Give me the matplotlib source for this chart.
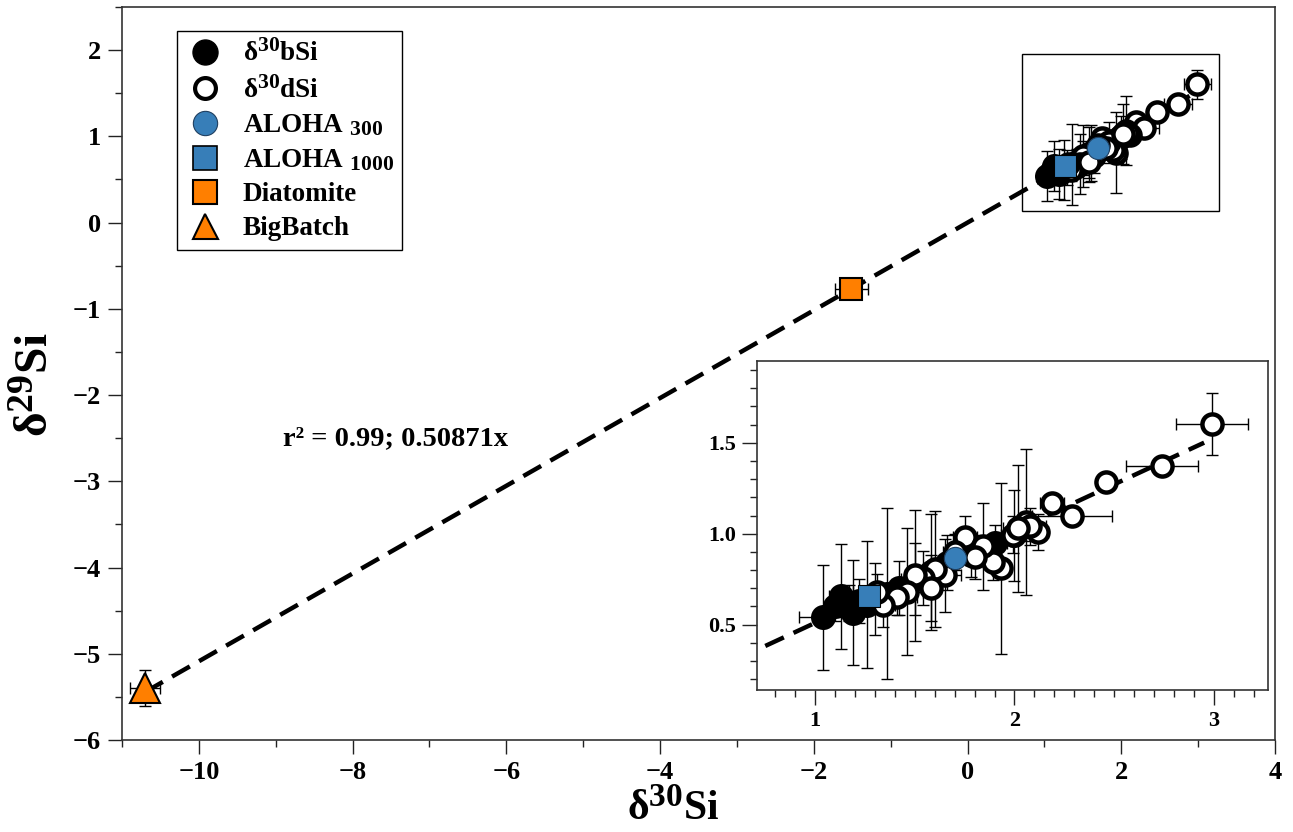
import matplotlib
matplotlib.use("Agg")
import matplotlib.pyplot as plt
import matplotlib._mathtext as _mt
from matplotlib.lines import Line2D
from matplotlib.patches import Rectangle
from matplotlib.ticker import MultipleLocator, FixedLocator

_mt.SHRINK_FACTOR = 0.8

plt.rcParams['font.family'] = ['Liberation Serif', 'DejaVu Serif']
plt.rcParams['font.weight'] = 'bold'
plt.rcParams['mathtext.fontset'] = 'custom'
plt.rcParams['mathtext.rm'] = 'Liberation Serif:bold'
plt.rcParams['mathtext.bf'] = 'Liberation Serif:bold'
plt.rcParams['mathtext.it'] = 'Liberation Serif:bold'
plt.rcParams['axes.unicode_minus'] = True

# ---------------- data ----------------
bsi_x = [1.04, 1.10, 1.13, 1.17, 1.19, 1.22, 1.26, 1.30, 1.36, 1.42, 1.50, 1.58, 1.66, 1.78, 1.90, 2.00, 2.06]
bsi_y = [0.54, 0.60, 0.655, 0.62, 0.565, 0.63, 0.61, 0.64, 0.67, 0.70, 0.75, 0.79, 0.84, 0.88, 0.95, 0.99, 1.04]
bsi_xerr = [0.12, 0.05, 0.06, 0.08, 0.05, 0.05, 0.10, 0.06, 0.08, 0.06, 0.07, 0.05, 0.06, 0.05, 0.06, 0.05, 0.05]
bsi_yerr = [0.29, 0.08, 0.29, 0.10, 0.29, 0.12, 0.35, 0.20, 0.47, 0.15, 0.20, 0.32, 0.15, 0.12, 0.10, 0.25, 0.08]

dsi_x = [2.99, 2.74, 2.46, 2.19, 2.29, 2.06, 1.99, 2.12, 2.08, 1.75, 1.93, 1.89, 1.84, 1.80,
         1.65, 1.60, 1.54, 1.50, 1.46, 1.41, 1.34, 1.31, 1.58, 1.70, 2.02]
dsi_y = [1.605, 1.375, 1.284, 1.17, 1.10, 1.064, 0.995, 1.01, 1.04, 0.98, 0.81, 0.845, 0.93, 0.87,
         0.77, 0.806, 0.755, 0.77, 0.68, 0.65, 0.605, 0.68, 0.70, 0.90, 1.03]
dsi_xerr = [0.18, 0.18, 0.03, 0.06, 0.20, 0.05, 0.06, 0.05, 0.08, 0.06, 0.05, 0.04, 0.10, 0.06,
            0.08, 0.05, 0.07, 0.05, 0.08, 0.10, 0.06, 0.12, 0.05, 0.06, 0.08]
dsi_yerr = [0.17, 0.03, 0.03, 0.05, 0.05, 0.40, 0.10, 0.10, 0.10, 0.12, 0.47, 0.10, 0.24, 0.12,
            0.20, 0.32, 0.15, 0.36, 0.35, 0.10, 0.12, 0.10, 0.18, 0.10, 0.35]

aloha300 = (1.70, 0.865, 0.04, 0.04)
aloha1000 = (1.27, 0.655, 0.05, 0.05)
diatomite = (-1.51, -0.77, 0.22, 0.05)
bigbatch = (-10.70, -5.40, 0.20, 0.21)

slope = 0.50871
line_x = [-10.70, 2.95]
r2_text = "r\u00b2 = 0.99; 0.50871x"

labels = ["\u03b4$^{30}$bSi", "\u03b4$^{30}$dSi", "ALOHA $_{300}$", "ALOHA $_{1000}$", "Diatomite", "BigBatch"]

main_xlim = (-11, 4)
main_ylim = (-6, 2.5)
ins_xlim = (0.71, 3.27)
ins_ylim = (0.14, 1.95)

BLUE = '#377eb8'
ORANGE = '#ff7f00'

W, H = 1293, 832
fig = plt.figure(figsize=(W / 100, H / 100), dpi=100)
ax = fig.add_axes([122 / W, (H - 740) / H, (1275 - 122) / W, (740 - 7) / H])


def draw(a, big):
    eb = dict(fmt='none', ecolor='black', elinewidth=1.0, capsize=4, capthick=1.0, zorder=2)
    a.errorbar(bsi_x, bsi_y, xerr=bsi_xerr, yerr=bsi_yerr, **eb)
    a.errorbar(dsi_x, dsi_y, xerr=dsi_xerr, yerr=dsi_yerr, **eb)
    for v in (aloha300, aloha1000):
        a.errorbar([v[0]], [v[1]], xerr=[v[2]], yerr=[v[3]], **eb)
    lx = line_x if big else [ins_xlim[0] - 0.1, line_x[1]]
    a.plot(lx, [slope * x for x in lx], color='black', lw=3.2,
           linestyle=(0, (4.6, 2.4)), zorder=3, solid_capstyle='butt')
    a.plot(bsi_x, bsi_y, 'o', ms=16.5, mfc='black', mec='black', mew=1.5, zorder=4)
    a.plot(dsi_x, dsi_y, 'o', ms=14.5, mfc='white', mec='black', mew=3.2, zorder=5)
    a.plot([aloha300[0]], [aloha300[1]], 'o', ms=16, mfc=BLUE, mec='#1f3f60', mew=0.8, zorder=6)
    a.plot([aloha1000[0]], [aloha1000[1]], 's', ms=15.5, mfc=BLUE, mec='black', mew=0.8, zorder=6)
    if big:
        for v, m, ms in ((diatomite, 's', 16.5), (bigbatch, '^', 22)):
            a.errorbar([v[0]], [v[1]], xerr=[v[2]], yerr=[v[3]], **eb)
            a.plot([v[0]], [v[1]], m, ms=ms, mfc=ORANGE, mec='black', mew=1.5, zorder=6)


draw(ax, True)
ax.add_patch(Rectangle((ins_xlim[0], ins_ylim[0]), ins_xlim[1] - ins_xlim[0], ins_ylim[1] - ins_ylim[0],
                       fill=False, edgecolor='black', lw=1.0, zorder=7))

ax.set_xlim(*main_xlim)
ax.set_ylim(*main_ylim)
ax.xaxis.set_major_locator(MultipleLocator(2))
ax.xaxis.set_minor_locator(MultipleLocator(1))
ax.yaxis.set_major_locator(MultipleLocator(1))
ax.yaxis.set_minor_locator(MultipleLocator(0.5))
ax.tick_params(which='both', direction='out', top=False, right=False, width=1.0, color='#222222')
ax.tick_params(which='major', length=10, labelsize=19, pad=5)
ax.tick_params(which='minor', length=5)
for s in ax.spines.values():
    s.set_linewidth(1.2)
    s.set_color('#333333')
for t in ax.get_xticklabels() + ax.get_yticklabels():
    t.set_fontweight('bold')

ax.set_xlabel("\u03b4$^{30}$Si", fontsize=30, fontweight='bold', labelpad=0)
ax.xaxis.set_label_coords((673 - 122) / 1153, -(829 - 740) / 733, transform=ax.transAxes)
ax.xaxis.label.set_va('bottom')
ax.set_ylabel("\u03b4$^{29}$Si", fontsize=34, fontweight='bold')
ax.yaxis.set_label_coords(-(122 - 58) / 1153, (740 - 385) / 733, transform=ax.transAxes)

ax.text(-8.9, -2.5, r2_text, fontsize=20.5, fontweight='bold', va='center', ha='left')

handles = [
    Line2D([], [], ls='none', marker='o', ms=18, mfc='black', mec='black'),
    Line2D([], [], ls='none', marker='o', ms=15, mfc='white', mec='black', mew=3),
    Line2D([], [], ls='none', marker='o', ms=17.5, mfc=BLUE, mec='#1f3f60', mew=0.8),
    Line2D([], [], ls='none', marker='s', ms=17, mfc=BLUE, mec='black', mew=1.2),
    Line2D([], [], ls='none', marker='s', ms=17, mfc=ORANGE, mec='black', mew=1.5),
    Line2D([], [], ls='none', marker='^', ms=18, mfc=ORANGE, mec='black', mew=1.5),
]
leg = ax.legend(handles, labels, loc='upper left', bbox_to_anchor=(55 / 1153, (740 - 31) / 733),
                borderaxespad=0, frameon=True, fancybox=False, framealpha=1, edgecolor='black',
                prop={'family': 'Liberation Serif', 'weight': 'bold', 'size': 19.5},
                labelspacing=0.33, handletextpad=0.7, borderpad=0.32, handlelength=1.4)
leg.get_frame().set_linewidth(1.0)
leg.set_zorder(10)

# ---------------- inset ----------------
axi = fig.add_axes([757 / W, (H - 690) / H, 511 / W, 329 / H])
draw(axi, False)
axi.set_xlim(*ins_xlim)
axi.set_ylim(*ins_ylim)
axi.xaxis.set_major_locator(FixedLocator([1, 2, 3]))
axi.xaxis.set_minor_locator(MultipleLocator(0.1))
axi.yaxis.set_major_locator(FixedLocator([0.5, 1.0, 1.5]))
axi.yaxis.set_minor_locator(MultipleLocator(0.1))
axi.set_yticklabels(['0.5', '1.0', '1.5'])
axi.tick_params(which='both', direction='out', top=False, right=False, width=1.0, color='#222222')
axi.tick_params(which='major', length=11, labelsize=16, pad=4)
axi.tick_params(which='minor', length=5)
for s in axi.spines.values():
    s.set_linewidth(1.2)
    s.set_color('#333333')
for t in axi.get_xticklabels() + axi.get_yticklabels():
    t.set_fontweight('bold')

fig.savefig('out.png', dpi=100)
